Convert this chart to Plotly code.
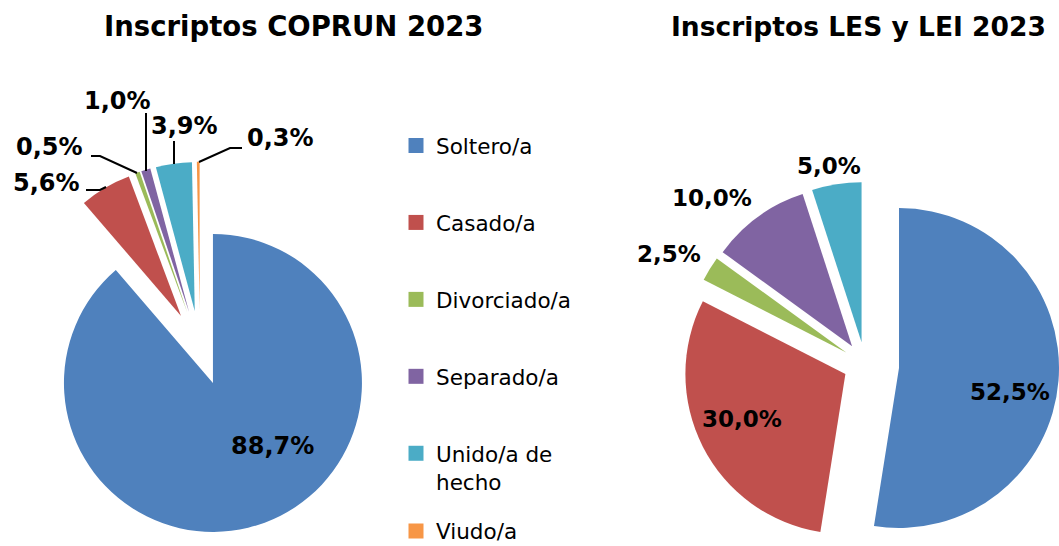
import plotly.graph_objects as go

# ---------------- data ----------------
categories = ["Soltero/a", "Casado/a", "Divorciado/a", "Separado/a", "Unido/a de hecho", "Viudo/a"]
legend_names = ["Soltero/a", "Casado/a", "Divorciado/a", "Separado/a", "Unido/a de<br>hecho", "Viudo/a"]
coprun_2023 = [88.7, 5.6, 0.5, 1.0, 3.9, 0.3]
les_lei_2023 = [52.5, 30.0, 2.5, 10.0, 5.0, 0.0]
titles = ["Inscriptos COPRUN 2023", "Inscriptos LES y LEI 2023"]

# ---------------- styles / layout ----------------
colors = ["#4F81BD", "#C0504D", "#9BBB59", "#8064A2", "#4BACC6", "#F79646"]
CLEAR = "rgba(0,0,0,0)"
W, H = 1059, 546
FONT = "DejaVu Sans"


def fx(px):
    return px / W


def fy(py):
    return 1 - py / H


def domain(cx, cy, half):
    return dict(x=[max(0, fx(cx - half)), min(1, fx(cx + half))],
                y=[max(0, fy(cy + half)), min(1, fy(cy - half))])


def fmt(v):
    return f"{v:.1f}%".replace(".", ",")


# label positions (pixels) per category
left_label_pos = [(272, 446), (46, 183), (49, 147), (117, 101), (184, 126), (280, 138)]
right_label_pos = [(1010, 392), (742, 419), (669, 254), (712, 198), (829, 166), None]

# leader lines for the small COPRUN slices (pixels)
leader_paths = [
    [(86, 190), (100, 190), (106, 187)],
    [(91, 156), (100, 156), (137, 173)],
    [(146, 113), (146, 171)],
    [(174, 141), (174, 164)],
    [(242, 148), (230, 148), (199, 162)],
]

fig = go.Figure()

common = dict(labels=categories, direction="clockwise", sort=False, rotation=0,
              textinfo="none", showlegend=False, hoverinfo="label+percent",
              marker_line_width=0)

# Left pie (all slices exploded)
r_left, pull_left = 149, 0.25
fig.add_trace(go.Pie(values=coprun_2023, marker_colors=colors,
                     pull=[pull_left] * len(coprun_2023),
                     domain=domain(200, 348, r_left * (1 + pull_left)), **common))

# Right pie: Soltero/a slice exploded further than the rest
r_right, pull_right = 160, 0.1375
fig.add_trace(go.Pie(values=les_lei_2023,
                     marker_colors=[colors[0]] + [CLEAR] * 5,
                     pull=[0] * 6, domain=domain(899, 368, r_right), **common))
fig.add_trace(go.Pie(values=les_lei_2023,
                     marker_colors=[CLEAR] + colors[1:],
                     pull=[pull_right] * 6,
                     domain=domain(865, 364, r_right * (1 + pull_right)), **common))

# Legend entries (dummy traces so the item spacing can follow the original)
for i, (name, c) in enumerate(zip(legend_names, colors)):
    fig.add_trace(go.Scatter(x=[None], y=[None], mode="markers", name=name,
                             marker=dict(symbol="square", size=15, color=c),
                             legendgroup=f"g{i}",
                             legend="legend2" if i == 5 else "legend",
                             hoverinfo="skip"))

annotations = []
for t, cx, fs in zip(titles, [293, 858], [27.5, 26.5]):
    annotations.append(dict(text=f"<b>{t}</b>", x=fx(cx), y=fy(26), xref="paper", yref="paper",
                            showarrow=False, xanchor="center", yanchor="middle",
                            font=dict(family=FONT, size=fs, color="#000000")))

for vals, pos, size in [(coprun_2023, left_label_pos, 24), (les_lei_2023, right_label_pos, 23)]:
    for v, p in zip(vals, pos):
        if p is None or v == 0:
            continue
        annotations.append(dict(text=f"<b>{fmt(v)}</b>", x=fx(p[0]), y=fy(p[1]),
                                xref="paper", yref="paper", showarrow=False,
                                xanchor="center", yanchor="middle",
                                font=dict(family=FONT, size=size, color="#000000")))

shapes = []
for pts in leader_paths:
    path = "M " + " L ".join(f"{fx(x):.5f},{fy(y):.5f}" for x, y in pts)
    shapes.append(dict(type="path", path=path, xref="paper", yref="paper",
                       line=dict(color="#000000", width=2)))

legend_font = dict(family=FONT, size=21.5, color="#000000")
fig.update_layout(
    width=W, height=H,
    margin=dict(l=0, r=0, t=0, b=0, autoexpand=False),
    paper_bgcolor="white", plot_bgcolor="white",
    xaxis=dict(visible=False), yaxis=dict(visible=False),
    annotations=annotations, shapes=shapes,
    legend=dict(x=fx(396), y=fy(125), xanchor="left", yanchor="top",
                font=legend_font, tracegroupgap=46, valign="top",
                bgcolor="rgba(0,0,0,0)"),
    legend2=dict(x=fx(396), y=fy(531), xanchor="left", yanchor="middle",
                 font=legend_font, valign="top", bgcolor="rgba(0,0,0,0)"),
)

# remove the browser's default page margin so the figure sits at the window origin
fig.write_html("out.html", config={"displayModeBar": False},
               post_script="document.body.style.margin='0px';")
